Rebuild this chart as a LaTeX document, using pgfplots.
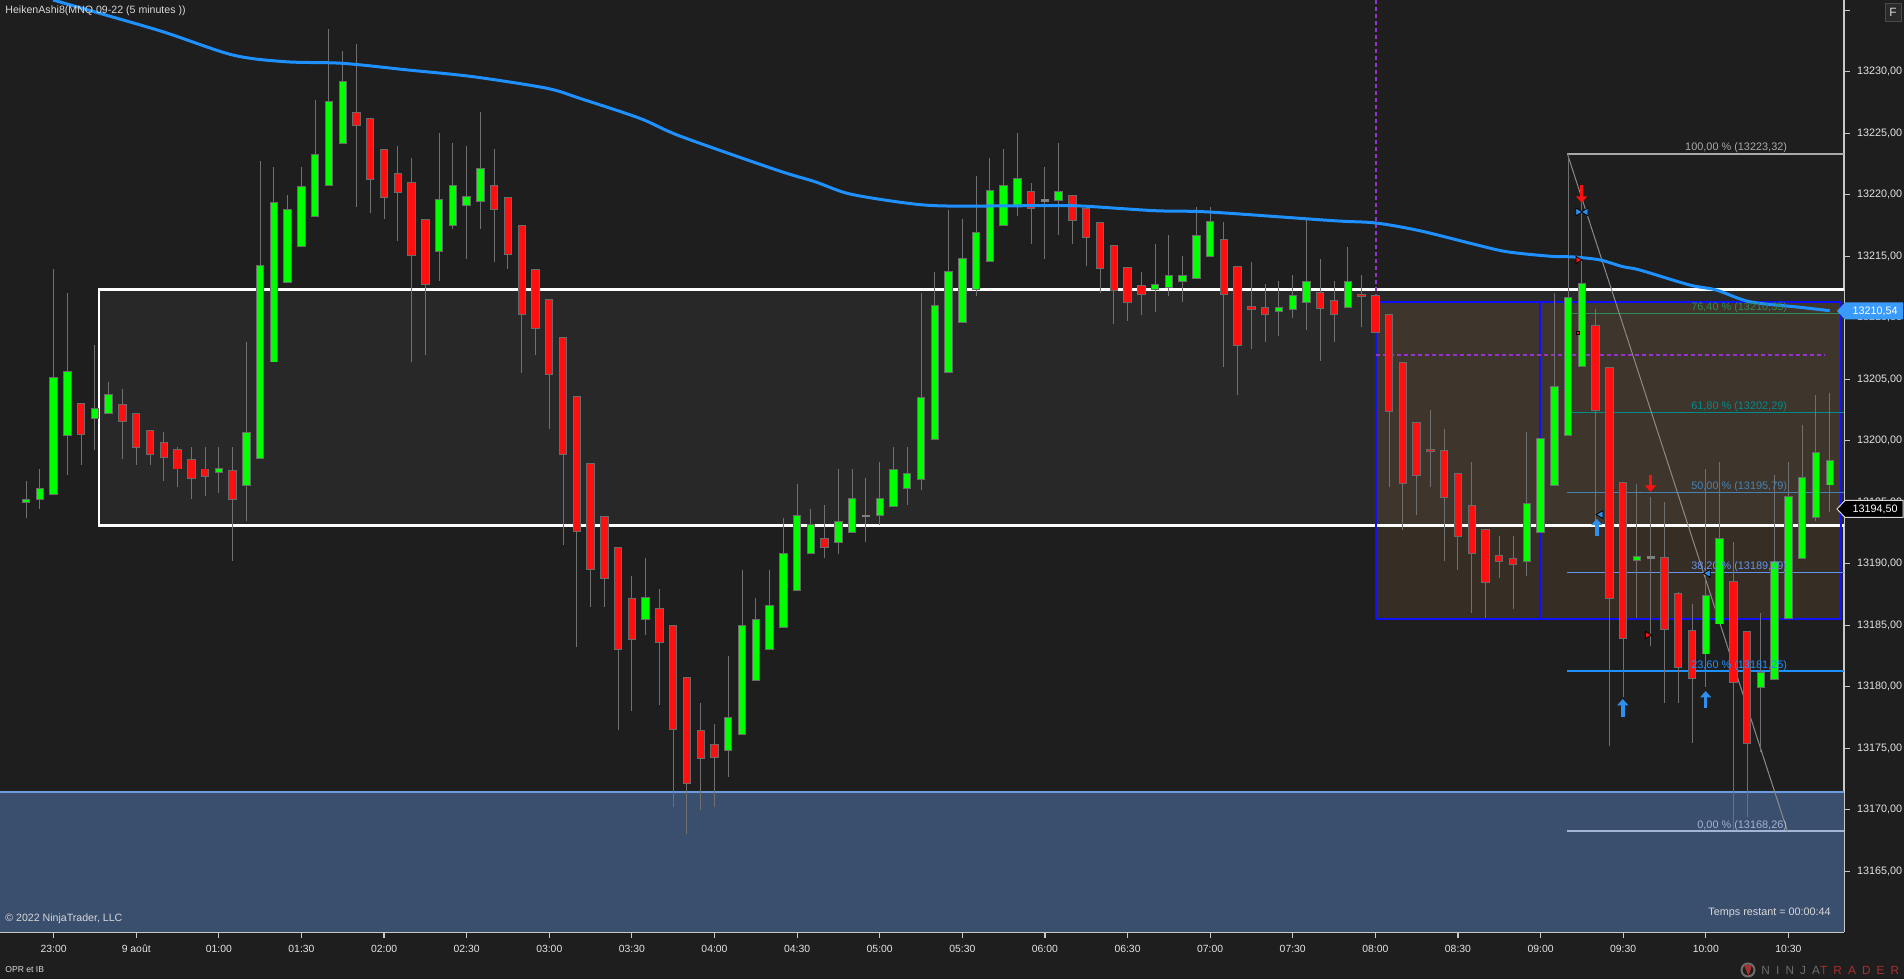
\documentclass[border=0pt]{standalone}
\usepackage{fontspec}
\setmainfont{Liberation Sans}
\usepackage{pgfplots}
\pgfplotsset{compat=1.18}
\usepackage{pgfplotstable}
\usetikzlibrary{arrows.meta}
\newcommand{\fs}[1]{\fontsize{#1}{#1}\selectfont}
\definecolor{bg}{HTML}{1E1E1E}
\definecolor{rectfill}{HTML}{282828}
\definecolor{zonefill}{HTML}{3A4E6E}
\definecolor{zoneline}{HTML}{6C9CE0}
\definecolor{wick}{HTML}{707070}
\definecolor{bodyline}{HTML}{6A6A6A}
\definecolor{cgreen}{HTML}{00FF00}
\definecolor{cred}{HTML}{FF1010}
\definecolor{ema}{HTML}{1E90FF}
\definecolor{purp}{HTML}{9932CC}
\definecolor{boxblue}{HTML}{1010FF}
\definecolor{brownc}{RGB}{150,110,60}
\definecolor{axcol}{HTML}{C8C8C8}
\definecolor{txt}{HTML}{D8D8D8}
\definecolor{ytxt}{HTML}{E4E4E4}
\definecolor{fibA}{HTML}{A9A9A9}
\definecolor{fibB}{HTML}{2E8B57}
\definecolor{fibC}{HTML}{008B8B}
\definecolor{fibD}{HTML}{4682B4}
\definecolor{fibE}{HTML}{6495ED}
\definecolor{fibF}{HTML}{1E90FF}
\definecolor{fibG}{HTML}{A3B5D6}
\definecolor{tagblue}{HTML}{3A9BFF}
\definecolor{diag}{HTML}{8A8A8A}
\definecolor{arrblue}{HTML}{2E8FF0}
\definecolor{fbox}{HTML}{2A2A2A}
\definecolor{fboxl}{HTML}{4A4A4A}
\definecolor{logogray}{HTML}{6E6E6E}
\definecolor{logored}{HTML}{A83030}

\pgfplotstableread{
j lo hi l h
0 13194.99 13195.26 13193.70 13196.70
1 13195.20 13196.10 13194.45 13197.70
2 13195.64 13205.16 13195.64 13213.96
3 13200.40 13205.60 13197.20 13211.98
5 13201.80 13202.60 13199.27 13207.78
6 13202.23 13203.77 13202.23 13204.77
14 13197.40 13197.72 13195.75 13199.50
16 13196.34 13200.68 13193.50 13208.00
17 13198.57 13214.26 13198.57 13222.74
18 13206.40 13219.38 13206.40 13222.25
19 13212.88 13218.81 13212.88 13219.98
20 13215.80 13220.68 13215.80 13222.25
21 13218.24 13223.28 13218.24 13227.70
22 13220.76 13227.60 13220.76 13233.47
23 13224.18 13229.20 13224.18 13231.68
30 13215.40 13219.60 13213.00 13225.02
31 13217.50 13220.76 13217.20 13224.20
32 13219.14 13219.84 13214.80 13223.96
33 13219.46 13222.10 13217.20 13226.70
45 13185.49 13187.28 13184.23 13190.50
51 13174.82 13177.50 13172.67 13182.50
52 13176.14 13184.98 13176.14 13189.49
53 13180.53 13185.49 13180.53 13187.20
54 13183.05 13186.60 13183.05 13189.49
55 13184.85 13190.84 13184.85 13193.72
56 13187.84 13193.94 13187.84 13196.49
57 13190.84 13193.20 13190.84 13194.45
59 13191.74 13193.40 13190.80 13197.70
60 13192.55 13195.28 13192.55 13197.70
62 13193.94 13195.28 13193.15 13198.27
63 13194.67 13197.68 13194.67 13199.49
64 13196.13 13197.35 13194.80 13199.49
65 13196.81 13203.53 13196.00 13212.00
66 13200.11 13211.00 13200.11 13213.72
67 13205.56 13213.74 13205.56 13218.76
68 13209.65 13214.80 13209.65 13218.00
69 13212.30 13216.90 13211.79 13221.52
70 13214.60 13220.36 13214.60 13223.00
71 13217.50 13220.73 13217.50 13223.72
72 13219.14 13221.30 13218.30 13225.02
75 13219.54 13220.28 13216.75 13224.20
82 13212.31 13212.72 13210.50 13216.00
83 13212.47 13213.45 13211.76 13216.72
84 13212.96 13213.45 13211.30 13215.00
85 13213.20 13216.70 13213.20 13219.00
86 13214.99 13217.84 13214.99 13219.00
91 13210.52 13210.85 13208.54 13212.98
92 13210.68 13211.79 13210.00 13213.47
93 13211.25 13212.96 13209.02 13218.00
96 13210.85 13212.96 13210.76 13215.75
109 13190.20 13194.90 13189.00 13200.70
110 13192.56 13200.18 13192.56 13200.18
111 13196.39 13204.40 13196.39 13211.98
112 13200.43 13211.67 13200.43 13223.32
113 13206.07 13212.78 13206.07 13219.50
117 13190.30 13190.57 13185.56 13196.48
122 13182.66 13187.43 13180.00 13197.70
123 13185.10 13192.03 13185.10 13198.30
126 13179.95 13181.14 13174.70 13186.00
127 13180.60 13190.22 13180.60 13197.20
128 13185.56 13195.50 13185.56 13198.30
129 13190.44 13197.00 13190.44 13201.28
130 13193.77 13199.06 13193.50 13203.72
131 13196.40 13198.41 13194.23 13203.90
}\greentab

\pgfplotstableread{
j lo hi l h
4 13200.50 13203.00 13198.05 13203.00
7 13201.55 13202.96 13198.50 13204.20
8 13199.43 13202.20 13198.05 13202.20
9 13198.90 13200.85 13198.05 13200.85
10 13198.62 13199.87 13196.70 13200.70
11 13197.70 13199.30 13196.20 13199.50
12 13196.90 13198.50 13195.26 13199.50
13 13197.07 13197.70 13195.50 13199.50
15 13195.20 13197.60 13190.20 13199.50
24 13225.61 13226.70 13219.03 13232.25
25 13221.25 13226.21 13218.54 13226.21
26 13219.79 13223.70 13218.05 13223.70
27 13220.20 13221.74 13216.26 13223.96
28 13215.04 13221.00 13206.40 13222.98
29 13212.70 13218.00 13207.00 13218.00
34 13218.81 13220.76 13214.55 13223.70
35 13215.16 13219.79 13214.00 13219.79
36 13210.30 13217.50 13205.50 13217.50
37 13209.15 13213.90 13206.98 13213.90
38 13205.40 13211.50 13200.97 13211.50
39 13198.87 13208.40 13191.54 13208.40
40 13192.60 13203.60 13183.20 13203.60
41 13189.52 13198.17 13186.50 13198.17
42 13188.79 13193.85 13186.50 13193.85
43 13183.02 13191.34 13176.50 13191.34
44 13183.86 13187.20 13178.00 13189.00
46 13183.59 13186.38 13178.50 13187.95
47 13176.53 13184.98 13170.26 13184.98
48 13172.16 13180.76 13168.00 13180.76
49 13174.18 13176.45 13170.00 13178.68
50 13174.26 13175.33 13170.26 13176.97
58 13191.33 13192.07 13190.50 13194.77
73 13218.89 13220.28 13216.02 13220.95
76 13217.92 13219.95 13216.02 13219.95
77 13216.54 13218.90 13214.23 13218.90
78 13214.00 13217.76 13212.03 13217.76
79 13212.25 13215.89 13209.50 13215.89
80 13211.25 13214.10 13209.76 13214.10
81 13211.90 13212.64 13210.25 13213.70
87 13211.90 13216.37 13206.02 13217.78
88 13207.75 13214.18 13203.74 13214.18
89 13210.68 13210.93 13207.48 13214.53
90 13210.28 13210.85 13208.05 13212.74
94 13210.76 13212.07 13206.50 13214.77
95 13210.28 13211.42 13208.05 13212.98
97 13211.74 13211.87 13209.27 13213.47
98 13208.81 13211.82 13208.81 13211.82
99 13202.39 13210.28 13196.26 13210.28
100 13196.54 13206.38 13192.76 13206.38
101 13197.19 13201.50 13193.98 13201.50
102 13199.14 13199.30 13196.26 13202.52
103 13195.40 13199.22 13190.24 13200.98
104 13192.23 13197.35 13189.50 13197.35
105 13190.85 13194.75 13186.00 13198.25
106 13188.48 13192.78 13185.60 13192.78
107 13190.20 13190.66 13188.80 13192.25
108 13189.94 13190.42 13186.28 13192.25
114 13202.49 13209.33 13193.20 13210.70
115 13187.18 13205.97 13175.20 13205.97
116 13183.94 13196.60 13179.20 13196.60
119 13184.67 13190.49 13178.70 13195.00
120 13181.57 13187.56 13178.70 13187.67
121 13180.68 13184.55 13175.45 13186.70
124 13180.38 13188.57 13168.35 13191.80
125 13175.40 13184.51 13169.43 13184.51
}\redtab

\pgfplotstableread{
j lo hi l h
61 13193.90 13193.90 13191.80 13196.97
74 13219.54 13219.54 13214.80 13222.25
118 13190.50 13190.50 13183.30 13195.45
}\dojitab

\pgfplotsset{
  wicks/.style={draw=none, mark=none, forget plot,
    error bars/.cd, y dir=plus, y explicit, error mark=none,
    error bar style={draw=wick, line width=0.5pt}},
  bodyout/.style={draw=none, mark=none, forget plot,
    error bars/.cd, y dir=plus, y explicit, error mark=none,
    error bar style={draw=bodyline, line width=4.2pt}},
  bodyin/.style={draw=none, mark=none, forget plot,
    error bars/.cd, y dir=plus, y explicit, error mark=none,
    error bar style={draw=#1, line width=3.2pt}},
}

\begin{document}
\begin{tikzpicture}
\useasboundingbox (0,-23.5pt) rectangle (952pt,466pt);
\fill[bg] (0,-23.5pt) rectangle (952pt,466pt);
\begin{axis}[
  at={(0,0)}, anchor=south west,
  width=922pt, height=466pt, scale only axis,
  xmin=-1.895, xmax=132.04, ymin=13160.06, ymax=13235.83,
  clip=false,
  axis x line*=bottom, axis y line*=right,
  axis line style={draw=axcol, line width=0.75pt},
  tick style={draw=axcol, line width=0.6pt},
  major tick length=3pt, tick align=outside,
  xtick={2,8,...,128},
  xticklabels={23:00,9 août,01:00,01:30,02:00,02:30,03:00,03:30,04:00,04:30,05:00,05:30,06:00,06:30,07:00,07:30,08:00,08:30,09:00,09:30,10:00,10:30},
  xticklabel style={font=\fs{5.2pt}, text=ytxt},
  ytick={13165,13170,13175,13180,13185,13190,13195,13200,13205,13210,13215,13220,13225,13230},
  extra y ticks={13235}, extra y tick labels={},
  scaled y ticks=false,
  yticklabel style={font=\fs{5.4pt}, text=ytxt, anchor=west,
    /pgf/number format/fixed, /pgf/number format/fixed zerofill,
    /pgf/number format/precision=2, /pgf/number format/use comma,
    /pgf/number format/1000 sep={}, /pgf/number format/assume math mode=true},
]
% blue zone
\addplot[fill=zonefill, draw=none, forget plot] coordinates {(-1.895,13160.06) (132.04,13160.06) (132.04,13171.46) (-1.895,13171.46)};
\addplot[draw=zoneline, line width=0.9pt, forget plot] coordinates {(-1.895,13171.46) (132.04,13171.46)};
% grey range rectangle
\addplot[fill=rectfill, draw=none, forget plot] coordinates {(5.294,13193.11) (132.04,13193.11) (132.04,13212.29) (5.294,13212.29)};
% brown box
\addplot[fill=brownc, fill opacity=0.2, draw=none, forget plot] coordinates {(98.04,13185.53) (131.8,13185.53) (131.8,13211.28) (98.04,13211.28)};
\addplot[draw=white, line width=1.25pt, forget plot] coordinates {(132.04,13212.29) (5.294,13212.29) (5.294,13193.11) (132.04,13193.11)};
\addplot[draw=boxblue, line width=1pt, forget plot] coordinates {(98.04,13185.53) (131.8,13185.53) (131.8,13211.28) (98.04,13211.28) (98.04,13185.53)};
\addplot[draw=boxblue, line width=1pt, forget plot] coordinates {(109.96,13185.53) (109.96,13211.28)};
% purple dashed
\addplot[draw=purp, line width=1pt, dash pattern=on 2pt off 1.5pt, forget plot] coordinates {(98.04,13235.83) (98.04,13211.28)};
\addplot[draw=purp, line width=1pt, dash pattern=on 2pt off 1.5pt, forget plot] coordinates {(98.04,13207.0) (130.6,13207.0)};
% fib levels
\addplot[draw=fibA, line width=0.9pt, forget plot] coordinates {(111.95,13223.32) (132.04,13223.32)};
\addplot[draw=fibB, line width=0.9pt, forget plot] coordinates {(111.95,13210.35) (132.04,13210.35)};
\addplot[draw=fibC, line width=0.9pt, forget plot] coordinates {(111.95,13202.29) (132.04,13202.29)};
\addplot[draw=fibD, line width=0.9pt, forget plot] coordinates {(111.95,13195.79) (132.04,13195.79)};
\addplot[draw=fibE, line width=0.9pt, forget plot] coordinates {(111.95,13189.29) (132.04,13189.29)};
\addplot[draw=fibF, line width=0.9pt, forget plot] coordinates {(111.95,13181.25) (132.04,13181.25)};
\addplot[draw=fibG, line width=0.9pt, forget plot] coordinates {(111.95,13168.26) (132.04,13168.26)};
\addplot[draw=diag, line width=0.5pt, forget plot] coordinates {(111.95,13223.32) (127.93,13168.26)};
% wicks
\addplot[wicks] table[x=j, y=l, y error expr=\thisrow{h}-\thisrow{l}] {\greentab};
\addplot[wicks] table[x=j, y=l, y error expr=\thisrow{h}-\thisrow{l}] {\redtab};
\addplot[wicks] table[x=j, y=l, y error expr=\thisrow{h}-\thisrow{l}] {\dojitab};
% bodies
\addplot[bodyout] table[x=j, y expr=\thisrow{lo}-0.04, y error expr=\thisrow{hi}-\thisrow{lo}+0.08] {\greentab};
\addplot[bodyout] table[x=j, y expr=\thisrow{lo}-0.04, y error expr=\thisrow{hi}-\thisrow{lo}+0.08] {\redtab};
\addplot[bodyin=cgreen] table[x=j, y expr=\thisrow{lo}+0.04, y error expr={max(\thisrow{hi}-\thisrow{lo}-0.08,0.02)}] {\greentab};
\addplot[bodyin=cred] table[x=j, y expr=\thisrow{lo}+0.04, y error expr={max(\thisrow{hi}-\thisrow{lo}-0.08,0.02)}] {\redtab};
\addplot[only marks, mark=-, mark size=2.1pt, mark options={draw=gray, line width=1.2pt}, forget plot] table[x=j, y=lo] {\dojitab};
% EMA
\addplot[draw=ema, line width=1.5pt, line join=round, smooth, forget plot] coordinates {
(1.95,13235.83) (4.93,13234.88) (9.94,13233.25) (15.0,13231.36) (18.85,13230.81) (23.0,13230.68) (27.73,13230.14) (32.49,13229.59) (37.83,13228.65) (40.2,13227.84) (44.58,13226.21) (47.49,13224.77) (54.53,13222.0) (57.29,13221.06) (59.83,13220.06) (64.07,13219.3) (66.95,13219.08) (73.75,13219.11) (76.66,13219.08) (81.98,13218.7) (85.98,13218.59) (94.91,13217.89) (98.03,13217.7) (101.23,13217.07) (105.08,13216.0) (107.52,13215.37) (110.67,13215.0) (112.36,13214.94) (114.3,13214.7) (115.97,13214.15) (117.2,13213.88) (120.83,13212.66) (122.77,13212.25) (125.19,13211.3) (128.82,13210.85) (131.0,13210.57)};
% arrows and signal marks
\addplot[draw=cred, line width=1.8pt, -{Triangle[length=3.2pt,width=5.5pt]}, forget plot] coordinates {(112.98,13220.8) (112.98,13219.35)};
\addplot[draw=cred, line width=1.8pt, -{Triangle[length=3.2pt,width=5.5pt]}, forget plot] coordinates {(117.98,13197.25) (117.98,13195.85)};
\addplot[draw=arrblue, line width=1.8pt, -{Triangle[length=3.2pt,width=5.5pt]}, forget plot] coordinates {(114.08,13192.25) (114.08,13193.65)};
\addplot[draw=arrblue, line width=1.8pt, -{Triangle[length=3.2pt,width=5.5pt]}, forget plot] coordinates {(115.97,13177.55) (115.97,13179.0)};
\addplot[draw=arrblue, line width=1.8pt, -{Triangle[length=3.2pt,width=5.5pt]}, forget plot] coordinates {(121.99,13178.25) (121.99,13179.65)};
\addplot[only marks, mark=triangle*, mark size=2.3pt, mark options={fill=arrblue, draw=none, rotate=-90}, forget plot] coordinates {(112.72,13218.6)};
\addplot[only marks, mark=triangle*, mark size=2.3pt, mark options={fill=arrblue, draw=none, rotate=90}, forget plot] coordinates {(113.28,13218.6) (114.37,13194.0) (122.16,13189.22)};
\addplot[only marks, mark=triangle*, mark size=2pt, mark options={fill=cred, draw=none, rotate=-90}, forget plot] coordinates {(112.72,13214.7) (117.77,13184.2)};
\addplot[only marks, mark=square*, mark size=0.6pt, mark options={fill=cred, draw=none}, forget plot] coordinates {(112.72,13208.76)};
% fib labels
\node[anchor=base east, text=fibA, font=\fs{5.45pt}, inner sep=0, yshift=1.5pt] at (axis cs:127.93,13223.32) {100,00 \% (13223,32)};
\node[anchor=base east, text=fibB, font=\fs{5.45pt}, inner sep=0, yshift=1.5pt] at (axis cs:127.93,13210.35) {76,40 \% (13210,35)};
\node[anchor=base east, text=fibC, font=\fs{5.45pt}, inner sep=0, yshift=1.5pt] at (axis cs:127.93,13202.29) {61,80 \% (13202,29)};
\node[anchor=base east, text=fibD, font=\fs{5.45pt}, inner sep=0, yshift=1.5pt] at (axis cs:127.93,13195.79) {50,00 \% (13195,79)};
\node[anchor=base east, text=fibE, font=\fs{5.45pt}, inner sep=0, yshift=1.5pt] at (axis cs:127.93,13189.29) {38,20 \% (13189,29)};
\node[anchor=base east, text=fibF, font=\fs{5.45pt}, inner sep=0, yshift=1.5pt] at (axis cs:127.93,13181.25) {23,60 \% (13181,25)};
\node[anchor=base east, text=fibG, font=\fs{5.45pt}, inner sep=0, yshift=1.5pt] at (axis cs:127.93,13168.26) {0,00 \% (13168,26)};
\end{axis}
% decorations in original pixel coordinates
\begin{scope}[shift={(0,466pt)}, x=0.5pt, y=-0.5pt]
\node[anchor=west, text=txt, font=\fs{5.3pt}, inner sep=0] at (5,11) {HeikenAshi8(MNQ 09-22 (5 minutes ))};
\node[anchor=west, text=txt, font=\fs{5.3pt}, inner sep=0] at (5,919) {© 2022 NinjaTrader, LLC};
\node[anchor=west, text=txt, font=\fs{4.3pt}, inner sep=0] at (5,970) {OPR et IB};
\node[anchor=east, text=txt, font=\fs{5.4pt}, inner sep=0] at (1831,913) {Temps restant = 00:00:44};
\draw[fill=fbox, draw=fboxl] (1885,3) rectangle (1901,21);
\node[text=txt, font=\fs{6pt}, inner sep=0] at (1893,12) {F};
\fill[tagblue] (1837,311) -- (1845,302.5) -- (1903,302.5) -- (1903,319.5) -- (1845,319.5) -- cycle;
\node[text=white, font=\fs{5.4pt}, inner sep=0] at (1875,311) {13210,54};
\draw[fill=black, draw=txt, line width=0.5pt] (1837,509) -- (1845,500.5) -- (1903,500.5) -- (1903,517.5) -- (1845,517.5) -- cycle;
\node[text=white, font=\fs{5.4pt}, inner sep=0] at (1875,509) {13194,50};
\draw[draw=logogray, line width=1pt] (1748,970) circle (6.5);
\fill[logored] (1744,965) -- (1752,965) -- (1748.5,976) -- cycle;
\node[anchor=west, font=\fs{5.9pt}, inner sep=0] at (1761,970) {\addfontfeature{LetterSpace=52}\textcolor{logogray}{NINJA}\textcolor{logored}{TRADER}};
\end{scope}
\end{tikzpicture}
\end{document}
